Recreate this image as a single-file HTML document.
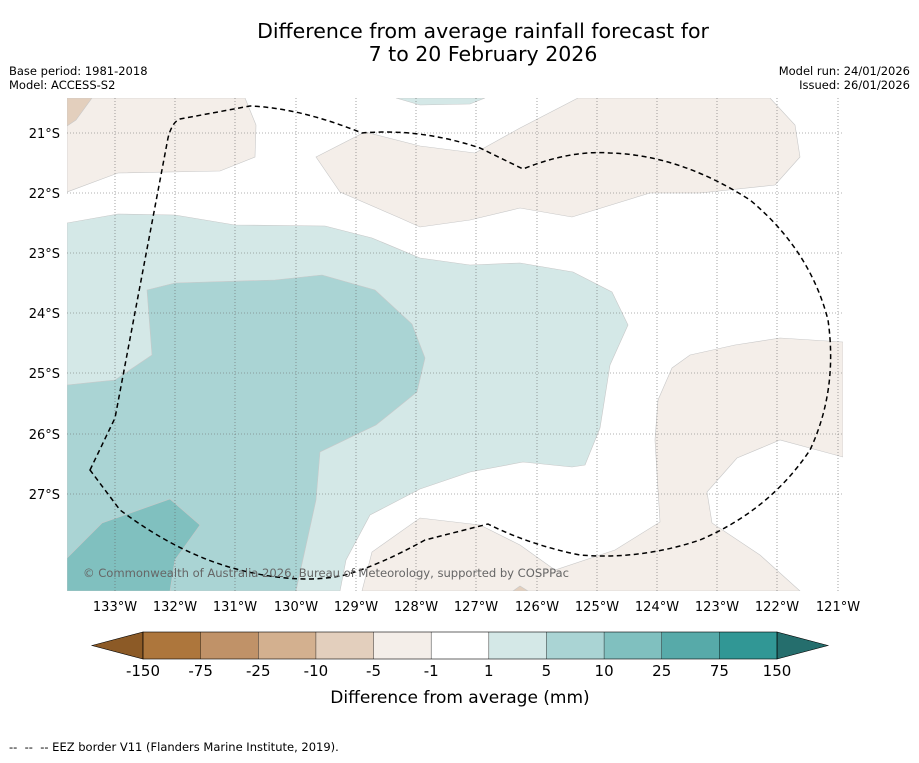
<!DOCTYPE html>
<html><head><meta charset="utf-8"><style>
body{margin:0;background:#fff;font-family:"Liberation Sans","DejaVu Sans",sans-serif;}
svg text{font-family:"DejaVu Sans","Liberation Sans",sans-serif;}
</style></head><body>
<svg width="919" height="758" xmlns="http://www.w3.org/2000/svg">
<text x="483" y="38" font-size="20.5" text-anchor="middle">Difference from average rainfall forecast for</text>
<text x="483" y="61" font-size="20.5" text-anchor="middle">7 to 20 February 2026</text>
<text x="9" y="75" font-size="11.5">Base period: 1981-2018</text>
<text x="9" y="89" font-size="11.5">Model: ACCESS-S2</text>
<text x="910" y="75" font-size="11.5" text-anchor="end">Model run: 24/01/2026</text>
<text x="910" y="89" font-size="11.5" text-anchor="end">Issued: 26/01/2026</text>
<defs><clipPath id="mc"><rect x="67" y="98" width="776" height="493"/></clipPath></defs>
<g clip-path="url(#mc)">
<rect x="67" y="98" width="776" height="493" fill="#fff"/>
<g stroke="#c8c8c8" stroke-width="0.6">
<polygon fill="#f4eee9" points="67,98 245,98 256,125 255,157 220,171 118,173 67,192"/>
<polygon fill="#e3cfbd" points="67,98 92,98 76,120 67,126"/>
<polygon fill="#f4eee9" points="316,157 365,132 420,146 475,153 520,128 578,98 770,98 795,125 800,157 775,185 700,193 650,193 572,217 520,208 470,220 420,227 400,218 340,192"/>
<polygon fill="#d4e8e7" points="396,98 485,98 470,104 420,105"/>
<polygon fill="#d4e8e7" points="67,223 118,214 175,215 235,225 325,226 372,238 420,258 470,265 520,263 573,272 612,292 628,325 610,365 600,428 585,465 572,467 523,462 470,472 420,489 370,515 346,560 340,591 67,591"/>
<polygon fill="#aad4d4" points="147,290 175,283 275,280 322,275 375,290 412,324 425,358 417,392 376,425 320,452 316,500 305,550 296,591 67,591 67,385 115,380 152,355"/>
<polygon fill="#80c0bf" points="67,558 102,523 170,499 200,525 175,560 170,591 67,591"/>
<polygon fill="#f4eee9" points="843,342 780,338 735,345 690,355 672,368 658,400 655,440 660,522 615,550 555,570 520,545 480,525 420,518 372,552 362,591 800,591 760,555 712,523 707,492 737,458 780,440 843,457"/>
<polygon fill="#e3cfbd" points="513,591 520,586 528,591"/>
</g>
<g stroke="#666" stroke-width="0.6" stroke-dasharray="1,2">
<line x1="115" y1="98" x2="115" y2="591"/><line x1="175" y1="98" x2="175" y2="591"/><line x1="235" y1="98" x2="235" y2="591"/><line x1="296" y1="98" x2="296" y2="591"/><line x1="356" y1="98" x2="356" y2="591"/><line x1="416" y1="98" x2="416" y2="591"/><line x1="476" y1="98" x2="476" y2="591"/><line x1="537" y1="98" x2="537" y2="591"/><line x1="597" y1="98" x2="597" y2="591"/><line x1="657" y1="98" x2="657" y2="591"/><line x1="717" y1="98" x2="717" y2="591"/><line x1="777" y1="98" x2="777" y2="591"/><line x1="838" y1="98" x2="838" y2="591"/>
<line x1="67" y1="133" x2="843" y2="133"/><line x1="67" y1="193" x2="843" y2="193"/><line x1="67" y1="253" x2="843" y2="253"/><line x1="67" y1="313" x2="843" y2="313"/><line x1="67" y1="373" x2="843" y2="373"/><line x1="67" y1="434" x2="843" y2="434"/><line x1="67" y1="494" x2="843" y2="494"/>
</g>
<path fill="none" stroke="#000" stroke-width="1.5" stroke-dasharray="5,3.5" d="M90,470 L115,418 L168,138 Q172,122 180,119 L250,106 Q300,108 362,133 Q420,128 480,148 L523,169 Q570,150 610,153 Q680,155 750,200 Q810,250 828,320 Q838,390 810,450 Q770,510 700,540 Q640,560 580,555 Q530,545 488,524 L425,540 Q380,565 345,575 Q300,585 240,570 Q180,555 120,510 Z"/>
<text x="83" y="577" font-size="11.6" fill="#666" textLength="486">© Commonwealth of Australia 2026, Bureau of Meteorology, supported by COSPPac</text>
</g>
<g font-size="13">
<text x="60" y="138" text-anchor="end">21°S</text><text x="60" y="198" text-anchor="end">22°S</text><text x="60" y="258" text-anchor="end">23°S</text><text x="60" y="318" text-anchor="end">24°S</text><text x="60" y="378" text-anchor="end">25°S</text><text x="60" y="439" text-anchor="end">26°S</text><text x="60" y="499" text-anchor="end">27°S</text>
</g>
<g font-size="13" text-anchor="middle">
<text x="115" y="611">133°W</text><text x="175" y="611">132°W</text><text x="235" y="611">131°W</text><text x="296" y="611">130°W</text><text x="356" y="611">129°W</text><text x="416" y="611">128°W</text><text x="476" y="611">127°W</text><text x="537" y="611">126°W</text><text x="597" y="611">125°W</text><text x="657" y="611">124°W</text><text x="717" y="611">123°W</text><text x="777" y="611">122°W</text><text x="838" y="611">121°W</text>
</g>
<g id="cbar"></g>
<text x="460" y="703" font-size="17" text-anchor="middle">Difference from average (mm)</text>
<text x="9" y="751" font-size="11.5" xml:space="preserve">--  --  -- EEZ border V11 (Flanders Marine Institute, 2019).</text>
</svg>
<script>
const levels = [-150,-75,-25,-10,-5,-1,1,5,10,25,75,150];
const tickLabels = ["-150","-75","-25","-10","-5","-1","1","5","10","25","75","150"];
const colors = ["#ad763c","#c09268","#d3b08f","#e3cfbd","#f4eee9","#ffffff","#d4e8e7","#aad4d4","#80c0bf","#57aaa9","#319795"];
const extendColors = ["#8c5a26","#256e6d"];
const NS = "http://www.w3.org/2000/svg";
const g = document.getElementById("cbar");
const x0 = 143, x1 = 777, y0 = 632, h = 27;
const step = (x1 - x0) / (levels.length - 1);
function xPos(i){ return x0 + i * step; }
function mk(t, a){ const e = document.createElementNS(NS, t); for (const k in a) e.setAttribute(k, a[k]); g.appendChild(e); return e; }
const lt = mk("polygon", {points: `92,${y0+h/2} ${x0},${y0} ${x0},${y0+h}`, fill: extendColors[0], stroke: "#000", "stroke-width": 0.6});


const rt = mk("polygon", {points: `828,${y0+h/2} ${x1},${y0} ${x1},${y0+h}`, fill: extendColors[1], stroke: "#000", "stroke-width": 0.6});


colors.forEach((c, i) => {
  const r = mk("rect", {x: xPos(i), y: y0, width: step, height: h, fill: c});
  
  
});
const fr = mk("rect", {x: x0, y: y0, width: x1 - x0, height: h, fill: "none", stroke: "#000", "stroke-width": 0.6});


levels.forEach((v, i) => {
  const ln = mk("line", {x1: xPos(i), y1: y0, x2: xPos(i), y2: y0 + h, stroke: "#000", "stroke-width": 0.4});
  
  
  const t = mk("text", {x: xPos(i), y: 676, "font-size": 15, "text-anchor": "middle"});
  t.textContent = tickLabels[i];
  
  
});
</script>
</body></html>
